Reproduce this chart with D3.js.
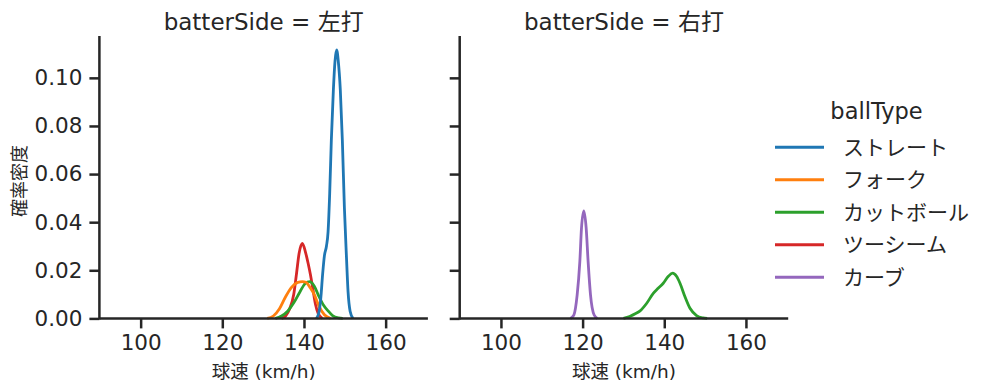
<!DOCTYPE html>
<html>
<head>
<meta charset="utf-8">
<script src="https://cdn.jsdelivr.net/npm/d3@7"></script>
<style>
  body { margin: 0; background: #fff; }
  text { font-family: "DejaVu Sans", "Noto Sans CJK JP", sans-serif; fill: #262626; }
</style>
</head>
<body>
<div id="chart"></div>
<script>
// values
var panels = ["左打", "右打"];
var ballTypes = ["ストレート", "フォーク", "カットボール", "ツーシーム", "カーブ"];
var colors = ["#1f77b4", "#ff7f0e", "#2ca02c", "#d62728", "#9467bd"];
var speedTicks = [100, 120, 140, 160];
var densityTicks = [0, 0.02, 0.04, 0.06, 0.08, 0.10];

// [speed, density]
var straightLeft = [[143.0, 0], [143.6, 0.002], [144.1, 0.008], [144.6, 0.019], [145.0, 0.026], [145.5, 0.030],
  [145.9, 0.036], [146.3, 0.052], [146.7, 0.074], [147.2, 0.095], [147.6, 0.107], [148.0, 0.1116],
  [148.4, 0.107], [148.9, 0.095], [149.4, 0.074], [149.9, 0.046], [150.4, 0.0257], [150.8, 0.011],
  [151.3, 0.003], [152.0, 0]];
var forkLeft = [[131, 0], [132.5, 0.001], [134, 0.004], [135.5, 0.009], [137, 0.013], [138.5, 0.015],
  [139.6, 0.0153], [140.5, 0.015], [141.5, 0.0128], [142.5, 0.010], [143.7, 0.005], [145, 0.0015], [146.5, 0]];
var cutterLeft = [[133, 0], [134.5, 0.001], [136, 0.003], [137.5, 0.0065], [139, 0.011], [140.3, 0.0145],
  [141.4, 0.0153], [142.5, 0.0135], [143.7, 0.009], [144.8, 0.0055], [145.8, 0.0033], [147, 0.0012],
  [148.5, 0.0002], [149.5, 0]];
var twoSeamLeft = [[134.5, 0], [135.5, 0.001], [136.5, 0.004], [137.5, 0.010], [138.2, 0.019], [138.8, 0.027],
  [139.6, 0.0312], [140.3, 0.028], [141.0, 0.023], [141.6, 0.018], [142.2, 0.012], [142.8, 0.006],
  [143.5, 0.002], [144.5, 0]];
var cutterRight = [[130, 0], [131.5, 0.0008], [133, 0.002], [134, 0.003], [135.7, 0.0063], [137.3, 0.0104],
  [138.5, 0.0125], [139.75, 0.0146], [141, 0.0175], [142.06, 0.0188], [143, 0.0175], [143.85, 0.0146],
  [145.07, 0.009], [146.3, 0.0042], [147.9, 0.0012], [149.5, 0.0002], [150.5, 0]];
var curveRight = [[117, 0], [117.85, 0.0014], [118.66, 0.0097], [119.32, 0.0236], [119.73, 0.0376],
  [120.3, 0.0447], [120.87, 0.0376], [121.35, 0.0236], [121.94, 0.0097], [122.83, 0.0014], [123.6, 0]];

// index into ballTypes for each curve
var panelCurves = [
  [[0, straightLeft], [1, forkLeft], [2, cutterLeft], [3, twoSeamLeft]],
  [[2, cutterRight], [4, curveRight]]
];

var svgWidth = 997;
var svgHeight = 391;
var panelLeft = [99.4, 459.7];
var panelWidth = 328.5;
var plotTop = 36;
var plotBottom = 318.4;

var svg = d3.select("#chart").append("svg")
  .attr("width", svgWidth)
  .attr("height", svgHeight);

var yScale = d3.scaleLinear().domain([0, 0.1174]).range([plotBottom, plotTop]);

panels.forEach(function(side, p) {
  var x0 = panelLeft[p];
  var xScale = d3.scaleLinear().domain([89.9, 170.35]).range([x0, x0 + panelWidth]);
  var g = svg.append("g");

  // curves, last hue drawn first
  var line = d3.line()
    .x(d => xScale(d[0]))
    .y(d => yScale(d[1]))
    .curve(d3.curveMonotoneX);
  panelCurves[p].slice().reverse().forEach(function(c) {
    g.append("path")
      .attr("d", line(c[1]))
      .attr("fill", "none")
      .attr("stroke", colors[c[0]])
      .attr("stroke-width", 2.8)
      .attr("stroke-linejoin", "round");
  });

  var bottomAxis = d3.axisBottom(xScale).tickValues(speedTicks).tickSize(10).tickPadding(6).tickSizeOuter(0);
  var leftAxis = d3.axisLeft(yScale).tickValues(densityTicks).tickSize(10).tickPadding(7).tickSizeOuter(0)
    .tickFormat(p === 0 ? d3.format(".2f") : "");

  var gx = g.append("g").attr("transform", `translate(0, ${plotBottom})`).call(bottomAxis);
  var gy = g.append("g").attr("transform", `translate(${x0}, 0)`).call(leftAxis);
  [gx, gy].forEach(function(a) {
    a.select(".domain").attr("stroke", "#262626").attr("stroke-width", 2.5);
    a.selectAll(".tick line").attr("stroke", "#262626").attr("stroke-width", 2.5);
    a.selectAll(".tick text").style("font-size", "21.5px").attr("fill", "#262626");
  });
  gx.select(".domain").attr("d", `M${x0},0H${x0 + panelWidth}`);
  gy.select(".domain").attr("d", `M0,${plotBottom + 1.2}V${plotTop}`);

  g.append("text")
    .attr("x", x0 + panelWidth / 2)
    .attr("y", 30)
    .attr("text-anchor", "middle")
    .style("font-size", "23px")
    .text("batterSide = " + side);

  g.append("text")
    .attr("x", x0 + panelWidth / 2)
    .attr("y", 378)
    .attr("text-anchor", "middle")
    .style("font-size", "18.5px")
    .text("球速 (km/h)");
});

svg.append("text")
  .attr("transform", `translate(25.5, 181) rotate(-90)`)
  .attr("text-anchor", "middle")
  .style("font-size", "18px")
  .text("確率密度");

// legend
var legend = svg.append("g");
legend.append("text")
  .attr("x", 876.5)
  .attr("y", 119)
  .attr("text-anchor", "middle")
  .style("font-size", "22.5px")
  .text("ballType");

ballTypes.forEach(function(name, i) {
  var y = 147.3 + i * 32.5;
  legend.append("line")
    .attr("x1", 775).attr("x2", 824)
    .attr("y1", y).attr("y2", y)
    .attr("stroke", colors[i])
    .attr("stroke-width", 3);
  legend.append("text")
    .attr("x", 843)
    .attr("y", y + 7.5)
    .style("font-size", "21px")
    .text(name);
});
</script>
</body>
</html>
